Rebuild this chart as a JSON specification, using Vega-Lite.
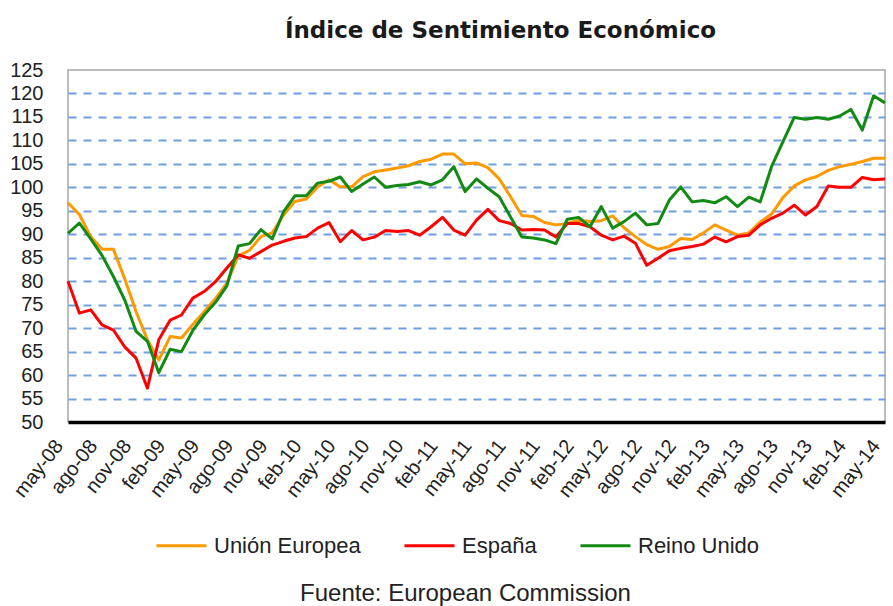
{
  "$schema": "https://vega.github.io/schema/vega-lite/v6.json",
  "width": 817,
  "height": 352,
  "autosize": {"type": "none"},
  "padding": {"left": 68, "top": 70, "right": 8, "bottom": 184},
  "background": "white",
  "title": {"text": "Índice de Sentimiento Económico", "font": "DejaVu Sans", "fontSize": 23, "fontWeight": "bold", "color": "#1a1a1a", "anchor": "middle", "dx": 24, "dy": 31, "baseline": "alphabetic", "offset": 30},
  "data": {"values": [
    {"mes":"may-08","UE":96.7,"ES":80.0,"RU":90.2},
    {"mes":"jun-08","UE":94.2,"ES":73.2,"RU":92.4},
    {"mes":"jul-08","UE":89.5,"ES":73.9,"RU":89.0},
    {"mes":"ago-08","UE":86.8,"ES":70.7,"RU":85.5},
    {"mes":"sep-08","UE":86.8,"ES":69.6,"RU":81.0},
    {"mes":"oct-08","UE":80.5,"ES":66.0,"RU":76.0},
    {"mes":"nov-08","UE":73.5,"ES":63.6,"RU":69.3},
    {"mes":"dic-08","UE":67.5,"ES":57.2,"RU":67.2},
    {"mes":"ene-09","UE":63.2,"ES":67.5,"RU":60.5},
    {"mes":"feb-09","UE":68.2,"ES":71.7,"RU":65.5},
    {"mes":"mar-09","UE":67.9,"ES":72.8,"RU":65.0},
    {"mes":"abr-09","UE":70.8,"ES":76.4,"RU":69.5},
    {"mes":"may-09","UE":73.5,"ES":77.8,"RU":72.8},
    {"mes":"jun-09","UE":76.3,"ES":79.9,"RU":75.5},
    {"mes":"jul-09","UE":79.6,"ES":82.8,"RU":79.0},
    {"mes":"ago-09","UE":85.4,"ES":85.6,"RU":87.5},
    {"mes":"sep-09","UE":86.6,"ES":84.9,"RU":88.0},
    {"mes":"oct-09","UE":89.5,"ES":86.3,"RU":91.0},
    {"mes":"nov-09","UE":90.3,"ES":87.7,"RU":89.0},
    {"mes":"dic-09","UE":94.1,"ES":88.5,"RU":94.8},
    {"mes":"ene-10","UE":97.0,"ES":89.2,"RU":98.2},
    {"mes":"feb-10","UE":97.5,"ES":89.5,"RU":98.2},
    {"mes":"mar-10","UE":100.1,"ES":91.3,"RU":100.9},
    {"mes":"abr-10","UE":101.6,"ES":92.5,"RU":101.3},
    {"mes":"may-10","UE":100.1,"ES":88.4,"RU":102.2},
    {"mes":"jun-10","UE":100.1,"ES":90.8,"RU":99.1},
    {"mes":"jul-10","UE":102.3,"ES":88.8,"RU":100.7},
    {"mes":"ago-10","UE":103.3,"ES":89.4,"RU":102.2},
    {"mes":"sep-10","UE":103.7,"ES":90.8,"RU":100.0},
    {"mes":"oct-10","UE":104.1,"ES":90.6,"RU":100.4},
    {"mes":"nov-10","UE":104.6,"ES":90.8,"RU":100.6},
    {"mes":"dic-10","UE":105.5,"ES":89.8,"RU":101.2},
    {"mes":"ene-11","UE":106.0,"ES":91.6,"RU":100.5},
    {"mes":"feb-11","UE":107.1,"ES":93.6,"RU":101.6},
    {"mes":"mar-11","UE":107.1,"ES":90.9,"RU":104.4},
    {"mes":"abr-11","UE":105.0,"ES":89.8,"RU":99.1},
    {"mes":"may-11","UE":105.2,"ES":93.0,"RU":101.8},
    {"mes":"jun-11","UE":104.2,"ES":95.3,"RU":99.8},
    {"mes":"jul-11","UE":101.8,"ES":92.9,"RU":98.0},
    {"mes":"ago-11","UE":98.0,"ES":92.3,"RU":93.7},
    {"mes":"sep-11","UE":94.0,"ES":90.9,"RU":89.4},
    {"mes":"oct-11","UE":93.8,"ES":91.0,"RU":89.2},
    {"mes":"nov-11","UE":92.5,"ES":90.9,"RU":88.8},
    {"mes":"dic-11","UE":92.0,"ES":89.4,"RU":88.0},
    {"mes":"ene-12","UE":92.3,"ES":92.3,"RU":93.2},
    {"mes":"feb-12","UE":93.0,"ES":92.3,"RU":93.6},
    {"mes":"mar-12","UE":92.7,"ES":91.6,"RU":91.6},
    {"mes":"abr-12","UE":92.9,"ES":89.8,"RU":95.9},
    {"mes":"may-12","UE":93.9,"ES":88.8,"RU":91.3},
    {"mes":"jun-12","UE":91.4,"ES":89.6,"RU":92.7},
    {"mes":"jul-12","UE":89.5,"ES":88.1,"RU":94.5},
    {"mes":"ago-12","UE":87.8,"ES":83.4,"RU":92.0},
    {"mes":"sep-12","UE":86.8,"ES":84.9,"RU":92.3},
    {"mes":"oct-12","UE":87.4,"ES":86.5,"RU":97.3},
    {"mes":"nov-12","UE":89.1,"ES":87.0,"RU":100.1},
    {"mes":"dic-12","UE":88.9,"ES":87.4,"RU":96.9},
    {"mes":"ene-13","UE":90.3,"ES":87.9,"RU":97.2},
    {"mes":"feb-13","UE":92.0,"ES":89.4,"RU":96.7},
    {"mes":"mar-13","UE":90.9,"ES":88.4,"RU":98.0},
    {"mes":"abr-13","UE":89.8,"ES":89.5,"RU":95.9},
    {"mes":"may-13","UE":90.3,"ES":89.8,"RU":97.9},
    {"mes":"jun-13","UE":92.6,"ES":92.0,"RU":96.9},
    {"mes":"jul-13","UE":94.3,"ES":93.4,"RU":104.4},
    {"mes":"ago-13","UE":97.8,"ES":94.5,"RU":109.7},
    {"mes":"sep-13","UE":100.3,"ES":96.2,"RU":114.9},
    {"mes":"oct-13","UE":101.6,"ES":94.1,"RU":114.5},
    {"mes":"nov-13","UE":102.3,"ES":95.9,"RU":114.9},
    {"mes":"dic-13","UE":103.6,"ES":100.3,"RU":114.5},
    {"mes":"ene-14","UE":104.4,"ES":100.0,"RU":115.2},
    {"mes":"feb-14","UE":104.9,"ES":100.0,"RU":116.6},
    {"mes":"mar-14","UE":105.5,"ES":102.1,"RU":112.2},
    {"mes":"abr-14","UE":106.2,"ES":101.6,"RU":119.5},
    {"mes":"may-14","UE":106.2,"ES":101.8,"RU":118.0}
  ]},
  "transform": [
    {"fold": ["UE", "ES", "RU"], "as": ["clave", "valor"]},
    {"lookup": "clave", "from": {"data": {"values": [
      {"clave": "UE", "serie": "Unión Europea"},
      {"clave": "ES", "serie": "España"},
      {"clave": "RU", "serie": "Reino Unido"}
    ]}, "key": "clave", "fields": ["serie"]}}
  ],
  "mark": {"type": "line", "strokeWidth": 3, "strokeJoin": "round"},
  "encoding": {
    "x": {
      "field": "mes", "type": "ordinal", "sort": null,
      "scale": {"type": "point", "padding": 0},
      "axis": {
        "title": "Fuente: European Commission",
        "values": ["may-08","ago-08","nov-08","feb-09","may-09","ago-09","nov-09","feb-10","may-10","ago-10","nov-10","feb-11","may-11","ago-11","nov-11","feb-12","may-12","ago-12","nov-12","feb-13","may-13","ago-13","nov-13","feb-14","may-14"],
        "labelAngle": -52, "labelAlign": "right", "labelBaseline": "middle",
        "labelPadding": 20, "labelOffset": -9, "labelFont": "Liberation Sans", "labelFontSize": 20,
        "labelColor": "#222222", "labelOverlap": false, "labelBound": false, "labelFlush": false,
        "ticks": false, "grid": false,
        "domainColor": "#000000", "domainWidth": 3.5,
        "titleFont": "Liberation Sans", "titleFontSize": 24, "titleFontWeight": "normal",
        "titleColor": "#222222", "titleX": 397, "titleY": 178, "titleBaseline": "alphabetic", "titleAlign": "center"
      }
    },
    "y": {
      "field": "valor", "type": "quantitative",
      "scale": {"domain": [50, 125], "nice": false, "zero": false},
      "axis": {
        "title": null,
        "values": [50,55,60,65,70,75,80,85,90,95,100,105,110,115,120,125],
        "grid": true, "gridColor": "#6f9fe0", "gridWidth": 2, "gridDash": [8, 7],
        "gridOpacity": {"condition": {"test": "datum.value == 50 || datum.value == 125", "value": 0}, "value": 1},
        "domain": false, "ticks": false, "labelPadding": 25,
        "labelFont": "Liberation Sans", "labelFontSize": 20, "labelColor": "#222222"
      }
    },
    "color": {
      "field": "serie", "type": "nominal",
      "scale": {"domain": ["Unión Europea", "España", "Reino Unido"], "range": ["#FF9900", "#FF0000", "#138A13"]},
      "legend": {
        "title": null, "orient": "none", "legendX": 87, "legendY": 449,
        "direction": "horizontal", "columnPadding": 37, "padding": 0,
        "symbolType": "stroke", "symbolSize": 2500, "symbolStrokeWidth": 3,
        "labelFont": "Liberation Sans", "labelFontSize": 22, "labelColor": "#222222", "labelOffset": 6
      }
    }
  },
  "config": {"view": {"stroke": "#a6a6a6", "strokeWidth": 1.5}}
}
